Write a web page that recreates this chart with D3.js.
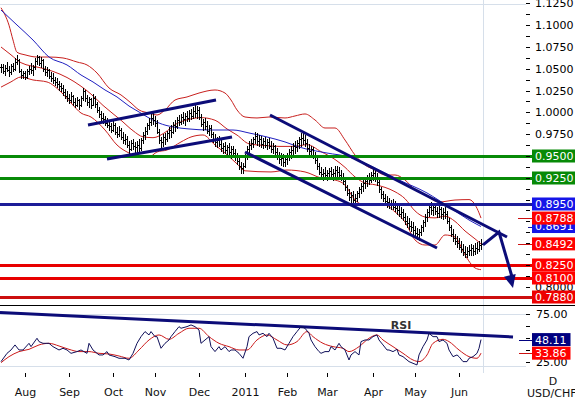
<!DOCTYPE html>
<html>
<head>
<meta charset="utf-8">
<script src="https://cdn.jsdelivr.net/npm/d3@7"></script>
<style>
  html, body { margin: 0; padding: 0; background: #fff; }
  svg { display: block; font-family: 'DejaVu Sans', Verdana, sans-serif; }
</style>
</head>
<body>
<div id="chart"></div>
<script>
// Daily USD/CHF bars from 15 Jul 2010, one row per trading day: [high, low, close]
const bars = [
  [1.056,1.046,1.052],[1.055,1.045,1.048],[1.054,1.043,1.051],[1.058,1.047,1.049],[1.053,1.042,1.046],
  [1.055,1.044,1.053],[1.057,1.048,1.050],[1.062,1.049,1.058],[1.066,1.055,1.060],[1.061,1.046,1.048],
  [1.050,1.040,1.043],[1.048,1.039,1.045],[1.047,1.038,1.041],[1.050,1.040,1.047],[1.053,1.044,1.050],
  [1.057,1.045,1.049],[1.054,1.043,1.052],[1.062,1.050,1.059],[1.066,1.056,1.063],[1.065,1.054,1.057],
  [1.063,1.052,1.060],[1.061,1.047,1.050],[1.053,1.043,1.046],[1.052,1.042,1.049],[1.050,1.039,1.042],
  [1.046,1.036,1.040],[1.045,1.034,1.037],[1.041,1.031,1.035],[1.039,1.029,1.032],[1.036,1.026,1.030],
  [1.034,1.024,1.028],[1.031,1.020,1.023],[1.027,1.016,1.019],[1.024,1.013,1.016],[1.021,1.011,1.014],
  [1.023,1.012,1.019],[1.020,1.009,1.012],[1.016,1.006,1.009],[1.018,1.007,1.014],[1.015,1.004,1.008],
  [1.019,1.007,1.016],[1.028,1.014,1.024],[1.026,1.013,1.016],[1.020,1.008,1.012],[1.018,1.006,1.015],
  [1.016,1.005,1.009],[1.021,1.008,1.017],[1.019,1.006,1.010],[1.012,1.000,1.003],[1.006,0.995,0.998],
  [1.002,0.991,0.994],[0.999,0.988,0.992],[0.996,0.985,0.988],[0.994,0.983,0.986],[0.991,0.980,0.984],
  [0.988,0.977,0.980],[0.990,0.979,0.986],[0.988,0.975,0.978],[0.983,0.972,0.975],[0.984,0.973,0.980],
  [0.982,0.969,0.972],[0.977,0.965,0.968],[0.975,0.964,0.970],[0.973,0.960,0.963],[0.967,0.953,0.958],
  [0.968,0.957,0.965],[0.970,0.958,0.961],[0.966,0.955,0.960],[0.967,0.954,0.963],[0.969,0.956,0.959],
  [0.971,0.957,0.968],[0.977,0.965,0.974],[0.983,0.970,0.979],[0.988,0.975,0.985],[0.994,0.981,0.989],
  [0.998,0.986,0.993],[0.999,0.987,0.991],[0.996,0.984,0.988],[0.991,0.976,0.978],[0.981,0.965,0.968],
  [0.972,0.960,0.966],[0.975,0.962,0.972],[0.976,0.964,0.970],[0.979,0.967,0.976],[0.983,0.971,0.980],
  [0.985,0.972,0.978],[0.989,0.976,0.986],[0.991,0.979,0.984],[0.995,0.982,0.991],[0.997,0.985,0.989],
  [0.998,0.987,0.995],[1.000,0.988,0.992],[0.999,0.986,0.996],[1.002,0.990,0.994],[1.003,0.990,0.999],
  [1.004,0.992,0.996],[1.006,0.993,1.002],[1.008,0.995,0.999],[1.007,0.994,1.003],[1.006,0.992,0.995],
  [0.998,0.984,0.987],[0.992,0.980,0.989],[0.994,0.981,0.984],[0.990,0.976,0.979],[0.986,0.974,0.982],
  [0.985,0.972,0.975],[0.978,0.966,0.969],[0.975,0.962,0.966],[0.972,0.960,0.968],[0.973,0.961,0.964],
  [0.969,0.956,0.959],[0.965,0.953,0.962],[0.966,0.954,0.957],[0.963,0.951,0.960],[0.965,0.952,0.955],
  [0.961,0.948,0.958],[0.962,0.950,0.953],[0.958,0.945,0.949],[0.954,0.941,0.944],[0.948,0.935,0.938],
  [0.943,0.931,0.936],[0.942,0.930,0.939],[0.952,0.937,0.949],[0.961,0.947,0.958],[0.967,0.954,0.963],
  [0.970,0.958,0.965],[0.972,0.960,0.969],[0.978,0.965,0.973],[0.976,0.963,0.967],[0.974,0.962,0.970],
  [0.973,0.960,0.964],[0.971,0.959,0.967],[0.972,0.960,0.963],[0.970,0.958,0.966],[0.971,0.959,0.962],
  [0.967,0.955,0.958],[0.965,0.953,0.961],[0.963,0.951,0.955],[0.959,0.946,0.950],[0.955,0.942,0.946],
  [0.953,0.940,0.948],[0.952,0.938,0.943],[0.951,0.939,0.947],[0.954,0.941,0.950],[0.958,0.945,0.955],
  [0.961,0.948,0.957],[0.965,0.952,0.962],[0.967,0.954,0.960],[0.968,0.956,0.965],[0.972,0.959,0.969],
  [0.976,0.962,0.971],[0.977,0.964,0.968],[0.974,0.961,0.965],[0.969,0.956,0.959],[0.964,0.951,0.956],
  [0.962,0.950,0.958],[0.960,0.948,0.951],[0.955,0.942,0.945],[0.949,0.935,0.938],[0.942,0.929,0.932],
  [0.937,0.924,0.929],[0.935,0.922,0.931],[0.937,0.925,0.928],[0.934,0.922,0.930],[0.936,0.924,0.933],
  [0.937,0.925,0.929],[0.935,0.923,0.931],[0.938,0.926,0.934],[0.939,0.927,0.932],[0.937,0.924,0.928],
  [0.934,0.922,0.926],[0.930,0.918,0.921],[0.924,0.911,0.914],[0.917,0.905,0.907],[0.912,0.899,0.903],
  [0.909,0.897,0.905],[0.910,0.896,0.899],[0.906,0.895,0.902],[0.910,0.898,0.907],[0.915,0.903,0.912],
  [0.919,0.907,0.916],[0.922,0.910,0.919],[0.925,0.913,0.921],[0.928,0.916,0.925],[0.930,0.918,0.923],
  [0.932,0.920,0.928],[0.936,0.923,0.931],[0.935,0.921,0.926],[0.930,0.917,0.920],[0.922,0.909,0.912],
  [0.914,0.902,0.906],[0.910,0.898,0.902],[0.906,0.894,0.898],[0.904,0.892,0.897],[0.902,0.890,0.894],
  [0.900,0.889,0.896],[0.901,0.889,0.892],[0.898,0.887,0.890],[0.896,0.884,0.888],[0.893,0.881,0.884],
  [0.891,0.879,0.886],[0.889,0.877,0.880],[0.885,0.872,0.875],[0.881,0.869,0.873],[0.879,0.866,0.870],
  [0.876,0.864,0.868],[0.874,0.861,0.865],[0.870,0.858,0.862],[0.867,0.855,0.860],[0.866,0.854,0.863],
  [0.871,0.859,0.868],[0.877,0.864,0.874],[0.883,0.870,0.880],[0.889,0.876,0.886],[0.894,0.881,0.891],
  [0.897,0.884,0.888],[0.895,0.882,0.892],[0.896,0.883,0.887],[0.892,0.880,0.885],[0.893,0.880,0.889],
  [0.892,0.879,0.884],[0.890,0.878,0.886],[0.891,0.879,0.883],[0.887,0.873,0.876],[0.879,0.865,0.868],
  [0.871,0.858,0.861],[0.866,0.853,0.856],[0.861,0.849,0.853],[0.858,0.846,0.850],[0.856,0.843,0.846],
  [0.852,0.840,0.843],[0.849,0.836,0.840],[0.847,0.834,0.838],[0.846,0.834,0.841],[0.848,0.836,0.842],
  [0.849,0.837,0.844],[0.848,0.836,0.841],[0.850,0.838,0.845],[0.851,0.839,0.843],[0.853,0.841,0.848],
  [0.855,0.843,0.849]
];

// Indicator lines: [bar index, value]
const bbUpper = [[0,1.120],[4,1.100],[6,1.083],[8,1.069],[12,1.066],[18,1.0635],[24,1.0635],[31,1.0624],
  [38,1.0578],[43,1.0544],[48,1.0452],[54,1.028],[60,1.020],[65,1.0108],[69,1.0028],[74,0.9993],[78,0.997],
  [82,1.0028],[87,1.0142],[93,1.0177],[99,1.0222],[107,1.0257],[112,1.0222],[115,1.0142],[118,1.0028],
  [122,0.9947],[128,0.9936],[134,0.9947],[142,0.9936],[147,0.9959],[152,0.9982],[157,0.9913],[162,0.9821],
  [167,0.9821],[172,0.9683],[177,0.9511],[182,0.9397],[187,0.9339],[192,0.9282],[197,0.9282],[202,0.9225],
  [207,0.911],[212,0.9053],[219,0.8972],[227,0.8995],[234,0.900],[238,0.890],[240,0.8788]];
const bbMiddle = [[0,1.075],[5,1.066],[10,1.057],[20,1.051],[26,1.047],[33,1.040],[40,1.030],[45,1.021],
  [51,1.008],[60,0.991],[66,0.979],[71,0.972],[76,0.971],[82,0.977],[87,0.986],[94,0.992],[100,0.994],
  [107,0.991],[113,0.981],[118,0.974],[124,0.964],[132,0.962],[139,0.961],[147,0.961],[153,0.963],
  [160,0.955],[167,0.946],[172,0.937],[177,0.926],[182,0.919],[187,0.917],[192,0.914],[197,0.909],
  [202,0.901],[207,0.887],[212,0.880],[217,0.879],[222,0.881],[227,0.875],[232,0.864],[237,0.855],[240,0.8492]];
const bbLower = [[0,1.029],[5,1.035],[10,1.0406],[16,1.0372],[23,1.0349],[30,1.0234],[35,1.0108],[40,0.9993],
  [45,0.9947],[52,0.9798],[58,0.9626],[64,0.9534],[69,0.9489],[74,0.9489],[78,0.9546],[83,0.9569],[90,0.9661],
  [95,0.9718],[101,0.9741],[107,0.9626],[112,0.9534],[118,0.941],[122,0.933],[135,0.9317],[143,0.9339],
  [152,0.9317],[160,0.9248],[167,0.9225],[172,0.9167],[177,0.8995],[182,0.8938],[187,0.8938],[192,0.8938],
  [197,0.8858],[202,0.8743],[207,0.8537],[212,0.8479],[217,0.8479],[222,0.8594],[227,0.8571],[232,0.8365],
  [237,0.8216],[240,0.8196]];
const maLine = [[0,1.1174],[8,1.1002],[16,1.083],[24,1.0635],[33,1.0544],[40,1.0429],[46,1.0349],[52,1.0257],
  [58,1.0177],[64,1.0073],[69,1.0005],[74,0.9936],[79,0.9878],[86,0.9833],[94,0.981],[104,0.9798],[116,0.9798],
  [124,0.9764],[133,0.9718],[142,0.9661],[149,0.9603],[163,0.9534],[174,0.9489],[186,0.9374],[199,0.9225],
  [213,0.9076],[224,0.8915],[234,0.8766],[240,0.8691]];

const rsiValues = [[0,25.0],[3,33.7],[5,37.2],[7,42.5],[9,37.2],[11,37.2],[14,44.2],[15,40.7],[18,49.5],[19,46.0],
  [21,44.2],[24,44.2],[26,40.7],[29,37.2],[31,39.0],[33,37.2],[35,33.7],[38,35.5],[40,37.2],[43,33.7],[44,44.2],
  [46,37.2],[49,32.0],[51,32.0],[53,35.5],[54,32.0],[57,30.2],[59,28.5],[62,28.5],[64,26.7],[66,33.7],[68,44.2],
  [70,51.2],[72,56.5],[74,53.0],[75,56.5],[77,51.2],[78,51.2],[80,39.0],[82,44.2],[84,47.7],[85,51.2],[87,56.5],
  [89,61.7],[90,60.0],[93,61.7],[95,63.5],[97,61.7],[99,58.2],[100,44.2],[102,47.7],[104,51.2],[105,40.7],
  [107,35.5],[109,40.7],[110,37.2],[112,40.7],[114,35.5],[115,37.2],[117,37.2],[119,33.7],[121,28.5],[123,40.7],
  [124,51.2],[126,54.7],[128,56.5],[129,53.0],[131,54.7],[133,51.2],[134,54.7],[136,49.5],[138,39.0],[140,39.0],
  [142,37.2],[144,44.2],[146,51.2],[148,56.5],[150,61.7],[152,60.0],[154,54.7],[155,47.7],[157,40.7],[159,35.5],
  [160,33.7],[162,35.5],[164,35.5],[165,40.7],[167,37.2],[169,44.2],[170,40.7],[172,37.2],[174,26.7],[175,32.0],
  [177,35.5],[179,32.0],[180,46.0],[182,47.7],[184,47.7],[186,51.2],[188,53.0],[189,47.7],[191,42.5],[193,37.2],
  [194,37.2],[196,35.5],[198,37.9],[199,32.0],[201,30.2],[203,26.7],[204,25.0],[206,23.2],[208,21.5],[209,32.0],
  [211,40.7],[213,47.7],[214,54.7],[216,51.2],[218,51.2],[219,46.0],[221,47.7],[223,44.2],[224,37.2],[226,30.2],
  [228,32.0],[229,30.2],[231,25.0],[233,25.0],[234,28.5],[236,30.2],[238,33.7],[239,39.0],[240,48.11]];
const rsiSignal = [[0,23.9],[4,30.2],[9,35.5],[14,37.9],[19,42.5],[24,44.2],[29,41.4],[34,37.9],[39,35.5],
  [44,35.5],[49,33.7],[54,33.0],[59,30.9],[64,28.5],[69,37.2],[74,47.7],[79,53.0],[84,48.4],[89,54.7],[94,60.0],
  [99,60.0],[104,51.2],[109,44.2],[114,40.7],[119,37.2],[123,37.2],[128,47.7],[133,53.0],[138,47.7],[143,42.5],
  [148,46.0],[153,56.5],[156,51.2],[161,44.2],[166,40.7],[171,39.0],[174,35.5],[179,40.7],[184,49.5],[188,53.0],
  [191,47.7],[196,40.7],[201,33.7],[206,26.7],[209,25.0],[213,32.0],[216,44.2],[221,48.4],[224,46.0],[229,37.2],
  [234,30.2],[238,28.5],[240,33.86]];

// Drawn studies: channel lines, forecast arrow, RSI resistance
const trendLines = [
  [[43.5, 0.9856], [107.5, 1.0142]],
  [[53, 0.9466], [115.5, 0.9718]],
  [[134.5, 0.997], [253, 0.8571]],
  [[122, 0.9546], [218, 0.8445]]
];
const forecastPath = [[241, 0.848], [249, 0.8628], [256, 0.7986]];
const rsiTrend = [[-0.5, 76.6], [256, 50.9]];

// Horizontal support / resistance levels and last indicator values
const levelValues = [0.95, 0.925, 0.895, 0.825, 0.81, 0.788];
const lastValues = [0.8691, 0.8788, 0.8492];
const rsiLast = [48.11, 33.86];
const rsiGuides = [75, 20];

// Axis ticks
const priceTicks = [1.125, 1.1, 1.075, 1.05, 1.025, 1.0, 0.975, 0.95, 0.925, 0.9, 0.875, 0.85, 0.825, 0.8];
const rsiTicks = [75, 50, 25];
const monthLabels = ['Aug', 'Sep', 'Oct', 'Nov', 'Dec', '2011', 'Feb', 'Mar', 'Apr', 'May', 'Jun'];

(function() {
  const W = 575, H = 398;
  const mainBottom = 305;
  const axisX = 526;
  const tagX = 532;
  const font = "'DejaVu Sans', Verdana, sans-serif";

  // trading days (weekdays) from 15 Jul 2010
  const dates = [];
  for (let d = new Date(2010, 6, 15); dates.length < bars.length; d = d3.timeDay.offset(d, 1)) {
    if (d.getDay() !== 0 && d.getDay() !== 6) dates.push(d);
  }
  const monthStarts = d3.range(1, dates.length).filter(i => dates[i].getMonth() !== dates[i - 1].getMonth());

  const x = d3.scaleLinear().domain([-0.5, 287]).range([0, W]);
  const yP = d3.scaleLinear().domain([0.7791, 1.1289]).range([mainBottom, 0]);
  const yR = d3.scaleLinear().domain([14.1, 84.4]).range([372, 305]);

  const svg = d3.select('#chart').append('svg')
    .attr('width', W).attr('height', H);

  const crisp = v => Math.round(v) + 0.5;

  // tick labels that sit under a value tag are not shown
  const priceTagYs = levelValues.concat(lastValues).map(v => yP(v));
  const rsiTagYs = rsiLast.map(v => yR(v));
  const hiddenBy = (ys, y) => ys.some(t => Math.abs(t - y) < 6);

  // Light grid
  const grid = svg.append('g').attr('stroke', '#d6dfea').attr('stroke-width', 1).attr('shape-rendering', 'crispEdges');
  grid.append('line')
    .attr('x1', crisp(x(241))).attr('x2', crisp(x(241)))
    .attr('y1', 0).attr('y2', 373);
  grid.append('line')
    .attr('x1', 0).attr('x2', axisX)
    .attr('y1', crisp(yP(1.125)) + 1).attr('y2', crisp(yP(1.125)) + 1);
  grid.selectAll('.rg').data(rsiGuides).enter().append('line')
    .attr('x1', 0).attr('x2', axisX)
    .attr('y1', d => crisp(yR(d))).attr('y2', d => crisp(yR(d)));

  const main = svg.append('g');

  // Bollinger bands and moving average
  const pLine = d3.line().x(d => x(d[0])).y(d => yP(d[1])).curve(d3.curveMonotoneX);
  [bbUpper, bbMiddle, bbLower].forEach(series => {
    main.append('path').attr('d', pLine(series))
      .attr('fill', 'none').attr('stroke', '#c8201e').attr('stroke-width', 1);
  });
  main.append('path').attr('d', pLine(maLine))
    .attr('fill', 'none').attr('stroke', '#2020c0').attr('stroke-width', 1);

  // OHLC bars (open = previous close)
  main.append('g').selectAll('path')
    .data(bars).enter().append('path')
    .attr('d', (d, i) => {
      const bx = crisp(x(i));
      const hi = Math.round(yP(d[0])), lo = Math.round(yP(d[1]));
      const o = crisp(yP(i ? bars[i - 1][2] : d[2]));
      const c = crisp(yP(d[2]));
      return `M${bx},${hi}V${lo + 1}M${bx - 1.5},${o}H${bx}M${bx},${c}H${bx + 1.5}`;
    })
    .attr('fill', 'none').attr('stroke', '#000').attr('stroke-width', 1)
    .attr('shape-rendering', 'crispEdges');

  // Support / resistance levels
  const levelColor = { 0.95: '#078a07', 0.925: '#078a07', 0.895: '#1c1c98', 0.825: '#e80000', 0.81: '#e80000', 0.788: '#cc0f0f' };
  const levelTag = { 0.95: '#078a07', 0.925: '#078a07', 0.895: '#1515e8', 0.825: '#ff0000', 0.81: '#ff0000', 0.788: '#ee0000' };
  main.selectAll('.level').data(levelValues).enter().append('line')
    .attr('x1', 0).attr('x2', tagX)
    .attr('y1', d => Math.round(yP(d))).attr('y2', d => Math.round(yP(d)))
    .attr('stroke', d => levelColor[d]).attr('stroke-width', 3)
    .attr('shape-rendering', 'crispEdges');

  // Channel trend lines
  const tLine = d3.line().x(d => x(d[0])).y(d => yP(d[1]));
  trendLines.forEach(t => {
    main.append('path').attr('d', tLine(t))
      .attr('fill', 'none').attr('stroke', '#0c0c78').attr('stroke-width', 3);
  });

  // Forecast arrow
  main.append('path').attr('d', tLine(forecastPath.slice(0, 2).concat([[
    forecastPath[2][0] - 0.4, forecastPath[2][1] + 0.012]])))
    .attr('fill', 'none').attr('stroke', '#0c0c78').attr('stroke-width', 3)
    .attr('stroke-linejoin', 'miter');
  const a = forecastPath[1], b = forecastPath[2];
  const ax = x(a[0]), ay = yP(a[1]), bx = x(b[0]), by = yP(b[1]);
  const len = Math.hypot(bx - ax, by - ay);
  const ux = (bx - ax) / len, uy = (by - ay) / len;
  const head = 13, half = 6;
  main.append('path')
    .attr('d', `M${bx},${by}L${bx - ux * head - uy * half},${by - uy * head + ux * half}` +
      `L${bx - ux * head + uy * half},${by - uy * head - ux * half}Z`)
    .attr('fill', '#0c0c78');

  // Price axis
  const priceAxis = d3.axisRight(yP).tickValues(priceTicks)
    .tickFormat(d => hiddenBy(priceTagYs, yP(d)) ? '' : d3.format('.4f')(d))
    .tickSize(4).tickPadding(5);
  const pa = svg.append('g').attr('transform', `translate(${axisX},0)`).call(priceAxis);
  const minorP = d3.axisRight(yP).tickValues(priceTicks.slice(0, -1).map(v => v - 0.0125))
    .tickFormat('').tickSize(4);
  const pm = svg.append('g').attr('transform', `translate(${axisX},0)`).call(minorP);
  [pa, pm].forEach(g => {
    g.select('.domain').remove();
    g.attr('font-family', font).attr('font-size', 11);
    g.selectAll('line').attr('stroke', '#000').attr('shape-rendering', 'crispEdges');
    g.selectAll('text').attr('fill', '#000');
  });

  // value tag helper
  function tag(y, label, fill) {
    const t = svg.append('g').attr('transform', `translate(${tagX},${y})`);
    const r = t.append('rect').attr('x', 0).attr('y', -6.5).attr('height', 13).attr('fill', fill);
    const tx = t.append('text').attr('x', 3).attr('dy', '0.36em')
      .attr('font-family', font).attr('font-size', 11).attr('fill', '#fff').text(label);
    r.attr('width', tx.node().getComputedTextLength() + 7);
  }

  // markers for last indicator values
  const lastColor = ['#1515e8', '#ff0000', '#ff0000'];
  const lastStart = [528, 518, 518];
  lastValues.forEach((v, i) => {
    svg.append('line')
      .attr('x1', lastStart[i]).attr('x2', tagX)
      .attr('y1', crisp(yP(v))).attr('y2', crisp(yP(v)))
      .attr('stroke', i === 0 ? '#1c1c98' : '#cc1010').attr('stroke-width', 1)
      .attr('shape-rendering', 'crispEdges');
  });

  levelValues.forEach(v => tag(Math.round(yP(v)), d3.format('.4f')(v), levelTag[v]));
  lastValues.forEach((v, i) => tag(yP(v), d3.format('.4f')(v), lastColor[i]));

  // pane separator
  svg.append('line')
    .attr('x1', 0).attr('x2', W).attr('y1', mainBottom + 0.5).attr('y2', mainBottom + 0.5)
    .attr('stroke', '#000').attr('stroke-width', 1);

  // RSI pane
  const rsiG = svg.append('g');
  const rLine = d3.line().x(d => x(d[0])).y(d => yR(d[1]));
  rsiG.append('path').attr('d', rLine(rsiTrend))
    .attr('fill', 'none').attr('stroke', '#0c0c78').attr('stroke-width', 3);
  rsiG.append('path').attr('d', rLine.curve(d3.curveMonotoneX)(rsiSignal))
    .attr('fill', 'none').attr('stroke', '#cc1a1a').attr('stroke-width', 1);
  rsiG.append('path').attr('d', d3.line().x(d => x(d[0])).y(d => yR(d[1]))(rsiValues))
    .attr('fill', 'none').attr('stroke', '#10105a').attr('stroke-width', 1);

  rsiG.append('text')
    .attr('x', x(200)).attr('y', yR(59))
    .attr('text-anchor', 'middle')
    .attr('font-family', font).attr('font-size', 11).attr('font-weight', 'bold')
    .attr('fill', '#333')
    .text('RSI');

  const rsiAxis = d3.axisRight(yR).tickValues(rsiTicks)
    .tickFormat(d => hiddenBy(rsiTagYs, yR(d)) ? '' : d3.format('.2f')(d))
    .tickSize(4).tickPadding(6);
  const ra = svg.append('g').attr('transform', `translate(${axisX},0)`).call(rsiAxis);
  const rm = svg.append('g').attr('transform', `translate(${axisX},0)`)
    .call(d3.axisRight(yR).tickValues([62.5, 37.5]).tickFormat('').tickSize(4));
  [ra, rm].forEach(g => {
    g.select('.domain').remove();
    g.attr('font-family', font).attr('font-size', 11);
    g.selectAll('line').attr('stroke', '#000').attr('shape-rendering', 'crispEdges');
    g.selectAll('text').attr('fill', '#000');
  });

  const rsiTagColor = ['#000080', '#ff0000'];
  rsiLast.forEach((v, i) => {
    svg.append('line')
      .attr('x1', 519).attr('x2', tagX)
      .attr('y1', crisp(yR(v))).attr('y2', crisp(yR(v)))
      .attr('stroke', i === 0 ? '#000080' : '#cc1010').attr('stroke-width', 1);
    tag(yR(v), d3.format('.2f')(v), rsiTagColor[i]);
  });

  // Time axis
  const timeAxis = d3.axisBottom(x).tickValues(monthStarts)
    .tickFormat((d, i) => monthLabels[i]).tickSize(4).tickPadding(11);
  const ta = svg.append('g').attr('transform', 'translate(0,373)').call(timeAxis);
  ta.select('.domain').remove();
  ta.attr('font-family', font).attr('font-size', 11);
  ta.selectAll('line').attr('stroke', '#000').attr('shape-rendering', 'crispEdges');
  ta.selectAll('text').attr('fill', '#111');

  svg.append('text').attr('x', 553).attr('y', 385).attr('text-anchor', 'middle')
    .attr('font-family', font).attr('font-size', 11).attr('fill', '#111').text('D');
  svg.append('text').attr('x', 527).attr('y', 397)
    .attr('font-family', font).attr('font-size', 11).attr('fill', '#111').text('USD/CHF');
})();
</script>
</body>
</html>
